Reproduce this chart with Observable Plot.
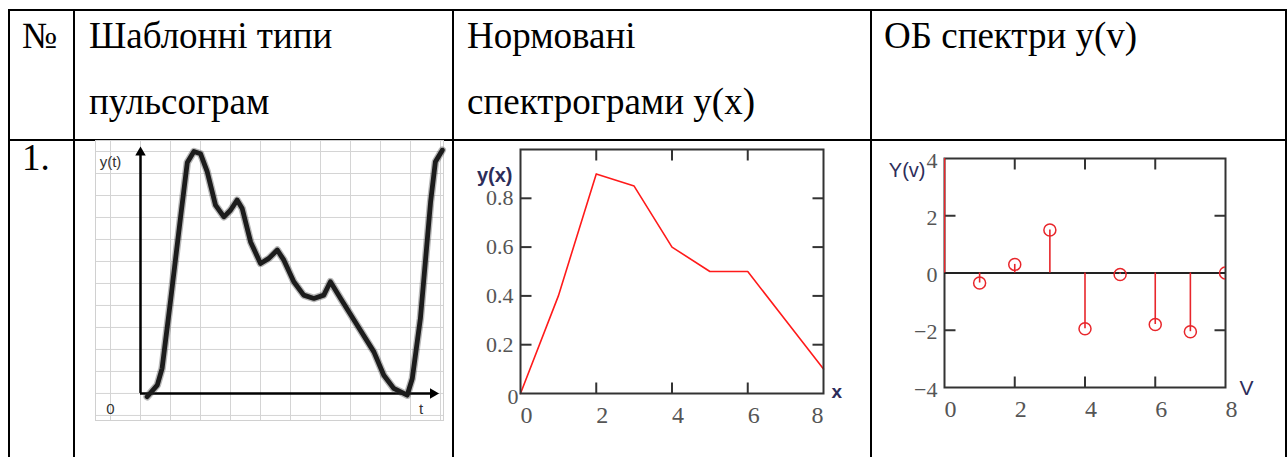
<!DOCTYPE html>
<html><head><meta charset="utf-8">
<script src="https://cdn.jsdelivr.net/npm/d3@7"></script>
<script src="https://cdn.jsdelivr.net/npm/@observablehq/plot@0.6"></script>
<style>
body{margin:0;background:#fff;width:1287px;height:457px;overflow:hidden;position:relative;font-family:"Liberation Serif","Times New Roman",serif;}
.ln{position:absolute;background:#000;}
.txt{position:absolute;font-size:37px;line-height:65.5px;white-space:pre;color:#000;}
.chart{position:absolute;}
.chart svg{overflow:visible;}
</style></head><body>
<div class="ln" style="left:8px;top:9px;width:1279px;height:2px"></div>
<div class="ln" style="left:8px;top:139px;width:1279px;height:2px"></div>
<div class="ln" style="left:8px;top:9px;width:2px;height:448px"></div>
<div class="ln" style="left:73px;top:9px;width:2px;height:448px"></div>
<div class="ln" style="left:452px;top:9px;width:2px;height:448px"></div>
<div class="ln" style="left:870px;top:9px;width:2px;height:448px"></div>
<div class="ln" style="left:1285px;top:9px;width:2px;height:448px"></div>
<div id="h0" class="txt" style="left:22px;top:3px"></div>
<div id="h1" class="txt" style="left:89px;top:3px"></div>
<div id="h2" class="txt" style="left:467px;top:3px"></div>
<div id="h3" class="txt" style="left:884px;top:3px"></div>
<div id="r1" class="txt" style="left:22px;top:125px"></div>
<div id="c1" class="chart" style="left:90px;top:138px"></div>
<div id="c2" class="chart" style="left:460px;top:140px"></div>
<div id="c3" class="chart" style="left:880px;top:140px"></div>
<script>
// ---- table texts ----
const headers = ["№", "Шаблонні типи\nпульсограм", "Нормовані\nспектрограми y(x)", "ОБ спектри y(v)"];
const rowLabels = ["1."];

// ---- chart 1: pulsogram template ----
const pulseT = [0.22,0.56,0.72,1.0,1.33,1.56,1.78,2.0,2.22,2.5,2.78,3.0,3.22,3.39,3.67,4.0,4.28,4.56,4.78,5.11,5.44,5.78,6.11,6.33,6.67,7.22,7.78,8.11,8.44,8.89,9.06,9.33,9.67,9.83,10.06];
const pulseY = [-0.15,0.38,1.14,4.2,7.95,10.5,11.0,10.9,10.1,8.56,8.03,8.33,8.79,8.41,6.89,5.91,6.14,6.52,6.06,5.08,4.47,4.32,4.47,5.08,4.32,3.11,1.89,0.83,0.23,-0.08,0.68,3.41,8.71,10.53,11.06];
const pulseGridT = [-1,0,1,2,3,4,5,6,7,8,9,10];
const pulseGridY = [-1,0,1,2,3,4,5,6,7,8,9,10,11];
const pulseAxisTip = {t: 9.75, y: 10.95};
const pulseLabels = [{t:-1.0, y:10.5, s:"y(t)"}, {t:-1.0, y:-0.7, s:"0"}, {t:9.35, y:-0.7, s:"t"}];

// ---- chart 2: normalized spectrogram ----
const specX = [0,1,2,3,4,5,6,7,8];
const specY = [0,0.4,0.9,0.85,0.6,0.5,0.5,0.3,0.1];
const specXTicks = [0,2,4,6,8];
const specYTicks = [0.2,0.4,0.6,0.8];

// ---- chart 3: OB spectrum ----
const obV = [0,1,2,3,4,5,6,7,8];
const obY = [4.6,-0.35,0.3,1.5,-1.95,-0.05,-1.8,-2.05,0];
const obXTicks = [0,2,4,6,8];
const obYTicks = [-4,-2,0,2,4];

// ---- table texts ----
headers.forEach((h,i)=>{ document.getElementById("h"+i).textContent = h; });
document.getElementById("r1").textContent = rowLabels[0];

const serif = "Liberation Serif, Times New Roman, serif";
const sans = "Liberation Sans, Arial, sans-serif";
const L = 11;
const tickSym = (dx, dy) => ({draw(ctx){ ctx.moveTo(0,0); ctx.lineTo(dx,dy); }});
const tUp = tickSym(0,-L), tDown = tickSym(0,L), tRight = tickSym(L,0), tLeft = tickSym(-L,0);

// chart 1
const pulse = pulseT.map((t,i)=>({t, y: pulseY[i]}));
const c1 = Plot.plot({
  width: 360, height: 292,
  marginLeft: 5, marginRight: 7, marginTop: 2, marginBottom: 10,
  x: {domain: [-1.5, 10.1], axis: null},
  y: {domain: [-1.23, 11.5], axis: null},
  style: {background: "transparent"},
  marks: [
    Plot.ruleX(pulseGridT, {stroke: "#d4d4d4", strokeWidth: 1}),
    Plot.ruleY(pulseGridY, {stroke: "#d4d4d4", strokeWidth: 1}),
    Plot.frame({stroke: "#d0d0d0"}),
    Plot.ruleX([0], {y1: () => 0, y2: () => pulseAxisTip.y, stroke: "#000", strokeWidth: 2.5}),
    Plot.ruleY([0], {x1: () => 0, x2: () => pulseAxisTip.t, stroke: "#000", strokeWidth: 2.5}),
    Plot.dot([pulseAxisTip], {x: () => 0, y: d => d.y, symbol: "triangle2", r: 5, fill: "#000"}),
    Plot.dot([pulseAxisTip], {x: d => d.t, y: () => 0, symbol: "triangle2", rotate: 90, r: 5, fill: "#000"}),
    Plot.line(pulse, {x: "t", y: "y", curve: "linear", stroke: "#333", strokeWidth: 7.5, strokeOpacity: 0.35, strokeLinejoin: "round"}),
    Plot.line(pulse, {x: "t", y: "y", curve: "linear", stroke: "#1c1c1c", strokeWidth: 4.8, strokeLinejoin: "round"}),
    Plot.text(pulseLabels, {x: "t", y: "y", text: "s", fontFamily: sans, fontSize: 15, fill: "#333"})
  ]
});
document.getElementById("c1").append(c1);

// chart 2
const spec = specX.map((x,i)=>({x, y: specY[i]}));
const inner2 = specXTicks.filter(d => d > 0 && d < 8);
const c2 = Plot.plot({
  width: 400, height: 290,
  marginLeft: 60, marginRight: 37, marginTop: 9, marginBottom: 37,
  x: {domain: [0, 8], axis: null},
  y: {domain: [0, 1], axis: null},
  style: {background: "transparent"},
  marks: [
    Plot.line(spec, {x: "x", y: "y", stroke: "#ff1a1a", strokeWidth: 1.6}),
    Plot.frame({stroke: "#333", strokeWidth: 2}),
    Plot.dot(inner2, {x: d => d, y: () => 0, symbol: tUp, fill: "none", stroke: "#333", strokeWidth: 2}),
    Plot.dot(inner2, {x: d => d, y: () => 1, symbol: tDown, fill: "none", stroke: "#333", strokeWidth: 2}),
    Plot.dot(specYTicks, {x: () => 0, y: d => d, symbol: tRight, fill: "none", stroke: "#333", strokeWidth: 2}),
    Plot.dot(specYTicks, {x: () => 8, y: d => d, symbol: tLeft, fill: "none", stroke: "#333", strokeWidth: 2}),
    Plot.text(specYTicks, {x: () => 0, y: d => d, text: d => d3.format(".1f")(d), textAnchor: "end", dx: -7, fontFamily: serif, fontSize: 22, fill: "#555"}),
    Plot.text([0], {x: () => 0, y: () => 0, text: d => String(d), textAnchor: "end", dx: -2, dy: 3, fontFamily: serif, fontSize: 22, fill: "#555"}),
    Plot.text(specXTicks.slice(0, -1), {x: d => d, y: () => 0, text: d => String(d), textAnchor: "start", dy: 22, fontFamily: serif, fontSize: 24, fill: "#555"}),
    Plot.text(specXTicks.slice(-1), {x: d => d, y: () => 0, text: d => String(d), textAnchor: "end", dy: 22, fontFamily: serif, fontSize: 24, fill: "#555"}),
    Plot.text(["y(x)"], {frameAnchor: "top-left", textAnchor: "end", dx: -8, dy: 18, fontFamily: sans, fontWeight: "bold", fontSize: 20, fill: "#2d2d5a"}),
    Plot.text(["x"], {frameAnchor: "bottom-right", textAnchor: "start", dx: 8, dy: 4, fontFamily: sans, fontWeight: "bold", fontSize: 19, fill: "#2d2d5a"})
  ]
});
document.getElementById("c2").append(c2);

// chart 3
const ob = obV.map((v,i)=>({v, Y: obY[i]}));
const inner3 = obXTicks.filter(d => d > 0 && d < 8);
const side3 = obYTicks.filter(d => d !== 0 && Math.abs(d) < 4);
const c3 = Plot.plot({
  width: 400, height: 290,
  marginLeft: 64, marginRight: 55, marginTop: 18, marginBottom: 43,
  x: {domain: [0, 8], axis: null},
  y: {domain: [-4, 4], axis: null},
  style: {background: "transparent"},
  marks: [
    Plot.frame({stroke: "#333", strokeWidth: 2}),
    Plot.ruleY([0], {stroke: "#222", strokeWidth: 2}),
    Plot.dot(inner3, {x: d => d, y: () => -4, symbol: tUp, fill: "none", stroke: "#333", strokeWidth: 2}),
    Plot.dot(inner3, {x: d => d, y: () => 4, symbol: tDown, fill: "none", stroke: "#333", strokeWidth: 2}),
    Plot.dot(side3, {x: () => 0, y: d => d, symbol: tRight, fill: "none", stroke: "#333", strokeWidth: 2}),
    Plot.dot(side3, {x: () => 8, y: d => d, symbol: tLeft, fill: "none", stroke: "#333", strokeWidth: 2}),
    Plot.ruleX(ob, {x: "v", y1: () => 0, y2: "Y", stroke: "#e8262b", strokeWidth: 1.6, clip: true}),
    Plot.dot(ob, {x: "v", y: "Y", r: 6, fill: "none", stroke: "#e8262b", strokeWidth: 1.5, clip: true}),
    Plot.text(obYTicks, {x: () => 0, y: d => d, text: d => d < 0 ? "\u2212" + Math.abs(d) : String(d), textAnchor: "end", dx: -7, dy: 2, fontFamily: serif, fontSize: 22, fill: "#555"}),
    Plot.text(obXTicks, {x: d => d, y: () => -4, text: d => String(d), textAnchor: "start", dy: 22, fontFamily: serif, fontSize: 24, fill: "#555"}),
    Plot.text(["Y(v)"], {frameAnchor: "top-left", textAnchor: "end", dx: -19, dy: 4, fontFamily: sans, fontSize: 20, fill: "#2d2d5a"}),
    Plot.text(["V"], {frameAnchor: "bottom-right", textAnchor: "start", dx: 14, dy: 7, fontFamily: sans, fontSize: 21, fill: "#2d2d5a"})
  ]
});
document.getElementById("c3").append(c3);
</script>
</body></html>
